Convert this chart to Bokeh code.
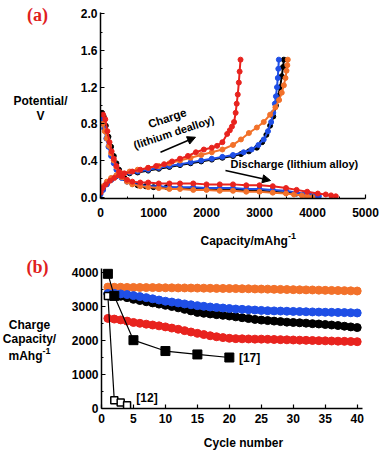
from bokeh.plotting import figure
from bokeh.models import Range1d, FixedTicker, Label, Arrow, NormalHead, PrintfTickFormatter
from bokeh.layouts import column, row
from bokeh.embed import file_html
from bokeh.resources import INLINE

# ---------------- Panel (a): potential profiles ----------------
chg_red_cap = [0, 40, 100, 180, 260, 350, 450, 600, 750, 900, 1050, 1200, 1350, 1500, 1650, 1800, 1950, 2100, 2200, 2300, 2390, 2440, 2480, 2520, 2550, 2570, 2590, 2610, 2625, 2642]
chg_red_v = [0.05, 0.10, 0.14, 0.18, 0.21, 0.24, 0.26, 0.28, 0.30, 0.32, 0.34, 0.36, 0.39, 0.42, 0.45, 0.49, 0.52, 0.54, 0.56, 0.60, 0.69, 0.73, 0.77, 0.82, 0.92, 1.02, 1.12, 1.25, 1.37, 1.50]

chg_black_cap = [0, 50, 120, 200, 300, 400, 550, 700, 900, 1100, 1300, 1500, 1700, 1900, 2100, 2300, 2500, 2650, 2800, 2950, 3050, 3130, 3200, 3260, 3310, 3350, 3390, 3420, 3445, 3460]
chg_black_v = [0.05, 0.10, 0.15, 0.19, 0.23, 0.25, 0.26, 0.27, 0.29, 0.31, 0.33, 0.35, 0.37, 0.39, 0.41, 0.43, 0.45, 0.47, 0.50, 0.54, 0.60, 0.68, 0.78, 0.88, 1.00, 1.10, 1.20, 1.32, 1.42, 1.50]

chg_blue_cap = [0, 50, 120, 200, 300, 400, 550, 700, 900, 1100, 1300, 1500, 1700, 1900, 2100, 2300, 2500, 2700, 2850, 2980, 3080, 3160, 3220, 3260, 3290, 3310, 3330, 3345, 3355, 3365]
chg_blue_v = [0.03, 0.08, 0.14, 0.19, 0.23, 0.25, 0.27, 0.28, 0.30, 0.32, 0.34, 0.36, 0.38, 0.40, 0.42, 0.44, 0.46, 0.49, 0.52, 0.57, 0.63, 0.72, 0.82, 0.92, 1.02, 1.10, 1.20, 1.30, 1.40, 1.50]

chg_orange_cap = [0, 50, 120, 200, 300, 400, 550, 700, 900, 1100, 1300, 1500, 1700, 1900, 2100, 2300, 2500, 2650, 2800, 2950, 3080, 3200, 3300, 3370, 3420, 3460, 3490, 3510, 3525, 3534]
chg_orange_v = [0.06, 0.12, 0.17, 0.21, 0.24, 0.26, 0.28, 0.30, 0.32, 0.34, 0.37, 0.40, 0.43, 0.46, 0.49, 0.52, 0.57, 0.63, 0.70, 0.76, 0.82, 0.90, 0.98, 1.06, 1.14, 1.22, 1.30, 1.38, 1.44, 1.50]

dis_black_cap = [30, 60, 100, 150, 200, 250, 300, 350, 400, 450, 500, 600, 700, 850, 1000, 1250, 1500, 1750, 2000, 2250, 2500, 2750, 3000, 3250, 3500, 3700, 3850, 3950, 4080]
dis_black_v = [0.92, 0.88, 0.78, 0.66, 0.55, 0.45, 0.37, 0.30, 0.25, 0.21, 0.18, 0.15, 0.13, 0.12, 0.11, 0.11, 0.10, 0.10, 0.09, 0.09, 0.08, 0.08, 0.07, 0.06, 0.05, 0.04, 0.03, 0.02, 0.00]

dis_red_cap = [50, 90, 130, 170, 210, 250, 300, 350, 400, 500, 600, 750, 900, 1100, 1300, 1500, 1750, 2000, 2250, 2500, 2750, 3000, 3250, 3500, 3700, 3900, 4100, 4250, 4350, 4440]
dis_red_v = [0.90, 0.85, 0.72, 0.60, 0.50, 0.42, 0.34, 0.28, 0.23, 0.19, 0.17, 0.16, 0.16, 0.15, 0.15, 0.15, 0.15, 0.14, 0.14, 0.14, 0.13, 0.13, 0.12, 0.10, 0.08, 0.06, 0.04, 0.03, 0.02, 0.01]

dis_blue_cap = [30, 70, 110, 150, 200, 250, 300, 350, 400, 500, 600, 750, 900, 1100, 1300, 1500, 1750, 2000, 2250, 2500, 2750, 3000, 3250, 3500, 3700, 3850, 3950, 4050, 4120]
dis_blue_v = [0.85, 0.75, 0.64, 0.55, 0.45, 0.37, 0.30, 0.25, 0.21, 0.17, 0.15, 0.13, 0.12, 0.12, 0.11, 0.11, 0.11, 0.10, 0.10, 0.10, 0.09, 0.09, 0.08, 0.07, 0.05, 0.04, 0.03, 0.02, 0.01]

dis_orange_cap = [40, 80, 120, 160, 200, 250, 300, 350, 400, 500, 600, 750, 900, 1100, 1300, 1500, 1750, 2000, 2250, 2500, 2750, 3000, 3250, 3500, 3650, 3800, 3900, 4000]
dis_orange_v = [0.80, 0.72, 0.64, 0.56, 0.48, 0.40, 0.33, 0.27, 0.22, 0.17, 0.14, 0.12, 0.11, 0.10, 0.09, 0.09, 0.08, 0.08, 0.07, 0.07, 0.06, 0.06, 0.05, 0.04, 0.03, 0.02, 0.01, 0.00]

a_x_ticks = [0, 1000, 2000, 3000, 4000, 5000]
a_x_minor = [500, 1500, 2500, 3500, 4500]
a_y_ticks = [0.0, 0.4, 0.8, 1.2, 1.6, 2.0]
a_y_minor = [0.2, 0.6, 1.0, 1.4, 1.8]

# ---------------- Panel (b): cycling ----------------
cycles = list(range(1, 41))
cap_orange = [3560, 3555, 3555, 3550, 3550, 3548, 3545, 3545, 3542, 3540, 3538, 3535, 3535, 3532, 3530, 3528, 3525, 3522, 3520, 3518,
              3515, 3512, 3510, 3505, 3502, 3500, 3495, 3492, 3488, 3485, 3480, 3478, 3475, 3470, 3465, 3462, 3458, 3455, 3450, 3445]
cap_blue = [3370, 3375, 3360, 3340, 3310, 3280, 3250, 3215, 3180, 3145, 3120, 3095, 3065, 3040, 3015, 2995, 2975, 2960, 2945, 2930,
            2915, 2905, 2895, 2885, 2875, 2865, 2860, 2855, 2850, 2845, 2840, 2835, 2830, 2825, 2820, 2818, 2815, 2810, 2805, 2800]
cap_black = [3360, 3330, 3290, 3250, 3200, 3165, 3130, 3095, 3060, 3025, 2990, 2950, 2905, 2860, 2815, 2790, 2770, 2750, 2730, 2710,
             2685, 2660, 2635, 2610, 2590, 2575, 2560, 2545, 2530, 2520, 2510, 2500, 2485, 2475, 2460, 2445, 2430, 2410, 2390, 2370]
cap_red = [2640, 2620, 2595, 2560, 2520, 2495, 2470, 2445, 2420, 2390, 2355, 2320, 2280, 2240, 2200, 2165, 2130, 2100, 2075, 2055,
           2045, 2040, 2035, 2030, 2030, 2025, 2020, 2015, 2010, 2005, 2000, 1995, 1990, 1985, 1980, 1975, 1970, 1965, 1960, 1955]
ref17_cycles = [1, 2, 5, 10, 15, 20]
ref17_cap = [3950, 3300, 2000, 1680, 1580, 1490]
ref12_cycles = [1, 2, 3, 4]
ref12_cap = [3300, 230, 170, 90]

b_x_ticks = [0, 5, 10, 15, 20, 25, 30, 35, 40]
b_y_ticks = [0, 1000, 2000, 3000, 4000]
b_y_minor = [500, 1500, 2500, 3500]

RED = "#E8231E"
BLUE = "#1F4FE6"
ORANGE = "#F2712A"
BLACK = "#000000"
LABEL_RED = "#E0201C"
FONT = "Liberation Sans"


def style_axes(p):
    p.outline_line_color = None
    p.xgrid.visible = False
    p.ygrid.visible = False
    for ax in (p.xaxis[0], p.yaxis[0]):
        ax.axis_line_width = 1.5
        ax.axis_line_color = "black"
        ax.major_tick_in = 4
        ax.major_tick_out = 0
        ax.minor_tick_in = 2
        ax.minor_tick_out = 0
        ax.major_tick_line_width = 1.2
        ax.minor_tick_line_width = 1.0
        ax.major_label_text_font = FONT
        ax.major_label_text_font_style = "bold"
        ax.major_label_text_font_size = "12px"
        ax.major_label_text_color = "black"


def lab(p, x, y, text, size="12px", color="black", align="center", font=FONT, style="bold", angle=0.0):
    p.add_layout(Label(x=x, y=y, text=text, text_font=font, text_font_size=size,
                       text_font_style=style, text_color=color, text_align=align,
                       text_baseline="middle", angle=angle))


def text_panel(w, h, x0, x1, y_top, y_bottom, border_top=0, border_bottom=0):
    # blank figure; its frame spans page pixels x0..x1, y_top..y_bottom
    f = figure(width=w, height=h, x_range=Range1d(x0, x1), y_range=Range1d(y_bottom, y_top),
               x_axis_type=None, y_axis_type=None, output_backend="svg", toolbar_location=None,
               min_border_left=0, min_border_right=0,
               min_border_top=border_top, min_border_bottom=border_bottom)
    f.outline_line_color = None
    f.xgrid.visible = False
    f.ygrid.visible = False
    return f


# ---- figure (a): page rows 0..232, frame x 100..365, y 0..198
p1 = figure(width=313, height=232, x_range=Range1d(0, 5000), y_range=Range1d(-0.014, 2.145),
            output_backend="svg", toolbar_location=None,
            min_border_left=32, min_border_right=16, min_border_top=0, min_border_bottom=34)
style_axes(p1)
p1.xaxis.ticker = FixedTicker(ticks=a_x_ticks, minor_ticks=a_x_minor)
p1.yaxis.ticker = FixedTicker(ticks=a_y_ticks, minor_ticks=a_y_minor)
p1.yaxis.formatter = PrintfTickFormatter(format="%.1f")
p1.yaxis.bounds = (-0.014, 2.015)
p1.xaxis.major_label_standoff = 9
p1.yaxis.major_label_standoff = 3

curves = [
    (chg_black_cap, chg_black_v, BLACK), (dis_black_cap, dis_black_v, BLACK),
    (chg_blue_cap, chg_blue_v, BLUE), (dis_blue_cap, dis_blue_v, BLUE),
    (chg_orange_cap, chg_orange_v, ORANGE), (dis_orange_cap, dis_orange_v, ORANGE),
    (chg_red_cap, chg_red_v, RED), (dis_red_cap, dis_red_v, RED),
]
for xs, ys, c in curves:
    p1.line(xs, ys, line_color=c, line_width=2)
    p1.scatter(xs, ys, size=5, fill_color=c, line_color=c, marker="circle")

lab(p1, 1258, 0.861, "Charge", size="11.5px", angle=0.32)
lab(p1, 1383, 0.709, "(lithium dealloy)", size="11px", angle=0.32)
lab(p1, 2453, 0.364, "Discharge (lithium alloy)", size="11px", align="left")
p1.add_layout(Arrow(end=NormalHead(size=8, fill_color="black", line_color="black"),
                    x_start=1132, y_start=0.491, x_end=1792, y_end=0.654, line_width=1.5))
p1.add_layout(Arrow(end=NormalHead(size=8, fill_color="black", line_color="black"),
                    x_start=2358, y_start=0.291, x_end=3208, y_end=0.182, line_width=1.5))

la = text_panel(68, 232, 0, 68, 0, 198, border_top=0, border_bottom=34)
lab(la, 37, 14, "(a)", size="18px", color=LABEL_RED, font="Liberation Serif")
lab(la, 40, 100.7, "Potential/")
lab(la, 40, 115, "V")

xa = text_panel(381, 17, 0, 381, 232, 249)
lab(xa, 200, 240, "Capacity/mAhg", align="left")
lab(xa, 287.5, 235, "-1", size="9px", align="left")

# ---- figure (b): page rows 249..427, frame x 100..362, y 249..408
p2 = figure(width=313, height=178, x_range=Range1d(0, 40.83), y_range=Range1d(-9, 4665),
            output_backend="svg", toolbar_location=None,
            min_border_left=32, min_border_right=19, min_border_top=0, min_border_bottom=19)
style_axes(p2)
p2.xaxis.ticker = FixedTicker(ticks=b_x_ticks, minor_ticks=[])
p2.yaxis.ticker = FixedTicker(ticks=b_y_ticks, minor_ticks=b_y_minor)
p2.yaxis.bounds = (-9, 4100)
p2.xaxis.major_label_standoff = 5
p2.yaxis.major_label_standoff = 3

for ys, c in [(cap_orange, ORANGE), (cap_black, BLACK), (cap_blue, BLUE), (cap_red, RED)]:
    p2.line(cycles, ys, line_color=c, line_width=1.2)
    p2.scatter(cycles, ys, size=8, fill_color=c, line_color=c, marker="circle")

p2.line(ref12_cycles, ref12_cap, line_color="black", line_width=1.2)
p2.scatter(ref12_cycles, ref12_cap, size=7, marker="square", fill_color="white", line_color="black", line_width=1.5)
p2.line(ref17_cycles, ref17_cap, line_color="black", line_width=1.2)
p2.scatter(ref17_cycles, ref17_cap, size=9, marker="square", fill_color="black", line_color="black")

lab(p2, 21.5, 1482, "[17]", align="left")
lab(p2, 5.45, 302, "[12]", align="left")

lb = text_panel(68, 178, 0, 68, 249, 408, border_top=0, border_bottom=19)
lab(lb, 37, 266, "(b)", size="18px", color=LABEL_RED, font="Liberation Serif")
lab(lb, 29, 324, "Charge")
lab(lb, 29, 338, "Capacity/")
lab(lb, 25, 355.7, "mAhg")
lab(lb, 42, 350.5, "-1", size="9px", align="left")

xb = text_panel(381, 23, 0, 381, 427, 450)
lab(xb, 243, 442, "Cycle number")

layout = column(row(la, p1), xa, row(lb, p2), xb)
open("out.html", "w").write(file_html(layout, INLINE))
